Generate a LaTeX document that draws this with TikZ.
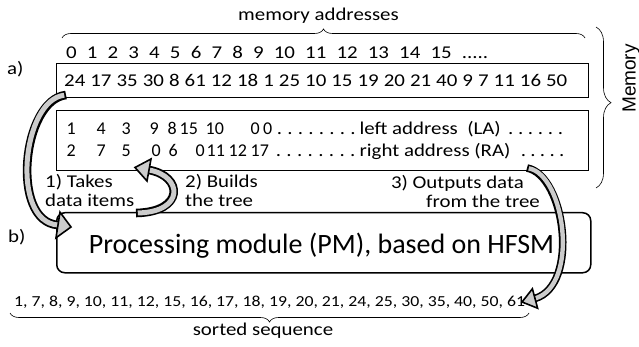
\documentclass[tikz,border=0pt]{standalone}
\usepackage{fontspec}
\setmainfont{Carlito}[FakeStretch=1.16]
\newfontfamily\pmfont{Carlito}
\newfontfamily\memfont{Liberation Sans}
\usetikzlibrary{decorations.pathreplacing}
\newcommand\tk[2]{\rlap{\hspace*{#1pt}#2}}
\newcommand\dg[1]{{\pmfont\fontsize{18}{20}\selectfont #1}}
\newcommand\mydots[1]{\hbox to #1pt{\xleaders\hbox to 9.6pt{\hss.\hss}\hfill}}
\begin{document}
\begin{tikzpicture}[x=1pt,y=-1pt,
  txt/.style={font=\fontsize{18}{20}\selectfont, inner sep=0pt},
  memBox/.style={draw, line width=0.7pt, inner sep=0pt, anchor=north west},
  bracestyle/.style={decorate, line width=0.6pt},
  outerband/.style={line width=8.6pt, black},
  innerband/.style={line width=5pt, gray!40, shorten <=1.8pt},
  headstyle/.style={fill=gray!40, draw=black, line width=1.6pt, line join=miter}]
\useasboundingbox (0,0) rectangle (639,347);

% memory addresses
\node[txt, anchor=base] (memaddr) at (318.5,20.5) {memory addresses};
\coordinate (tbA) at (62,38);
\coordinate (tbB) at (585,38);
\draw[bracestyle, decoration={brace, amplitude=9pt}] (tbA) -- (tbB);

\node[txt, anchor=base west] (idx) at (66,59)
  {\makebox[422pt][s]{0 1 2 3 4 5 6 7 8 9 10 11 12 13 14 15 .....}};

\node[txt, anchor=base west] (alab) at (7,75) {a)};

% memory boxes
\node[memBox, minimum width=532pt, minimum height=34pt] (mem1) at (56,63) {};
\node[txt, anchor=base west] (data) at (64,87)
  {\makebox[503pt][s]{24 17 35 30 8 61 12 18 1 25 10 15 19 20 21 40 9 7 11 16 50}};

\node[memBox, minimum width=532pt, minimum height=60pt] (mem2) at (56,110) {};
\node[txt, anchor=base west] (la) at (0,135)
  {\tk{66}{\dg{1}}\tk{96}{\dg{4}}\tk{121}{\dg{3}}\tk{149}{\dg{9}}\tk{167}{\dg{8}}\tk{179}{\dg{15}}\tk{205}{\dg{10}}%
   \tk{250}{\dg{0}}\tk{262.5}{\dg{0}}\tk{273}{\mydots{85}}\tk{359}{left address\ \ (LA)}\tk{505}{\mydots{60}}};
\node[txt, anchor=base west] (ra) at (0,157)
  {\tk{66}{\dg{2}}\tk{96}{\dg{7}}\tk{121}{\dg{5}}\tk{151}{\dg{0}}\tk{168}{\dg{6}}\tk{195}{\dg{0}}\tk{206}{\dg{11}}\tk{228}{\dg{12}}\tk{250}{\dg{17}}%
   \tk{272}{\mydots{86}}\tk{359}{right address (RA)}\tk{518}{\mydots{48}}};

% memory brace
\coordinate (mbA) at (596,27);
\coordinate (mbB) at (596,188);
\draw[bracestyle, decoration={brace, amplitude=15pt, aspect=0.47}] (mbA) -- (mbB);
\node[font=\memfont\fontsize{19}{21}\selectfont, inner sep=0pt, rotate=90, anchor=base] (memlbl) at (635.5,78.5) {Memory};

% step labels
\node[txt, anchor=base west] (take1) at (45,188) {1) Takes};
\node[txt, anchor=base west] (take2) at (45,207) {data items};
\node[txt, anchor=base west] (build1) at (185,188) {2) Builds};
\node[txt, anchor=base west] (build2) at (185,207) {the tree};
\node[txt, anchor=base east] (out1) at (524,189) {3) Outputs data};
\node[txt, anchor=base east] (out2) at (540,208) {from the tree};

\node[txt, anchor=base west] (blab) at (8,243) {b)};

% processing module
\node[draw, line width=1.5pt, rounded corners=8pt, inner sep=0pt, anchor=north west,
      minimum width=534pt, minimum height=60pt] (pm) at (56,212) {};
\node[font=\pmfont\fontsize{28}{30}\selectfont, inner sep=0pt, anchor=base] (pmtext) at (321.5,253)
  {Processing module (PM), based on HFSM};

% sorted sequence
\node[font=\fontsize{15.3}{17}\selectfont, inner sep=0pt, anchor=base west] (sorted) at (14,306)
  {1, 7, 8, 9, 10, 11, 12, 15, 16, 17, 18, 19, 20, 21, 24, 25, 30, 35, 40, 50, 61};
\coordinate (bbA) at (529,313);
\coordinate (bbB) at (10,313);
\draw[bracestyle, decoration={brace, amplitude=9pt}] (bbA) -- (bbB);
\node[txt, anchor=base] (sortlbl) at (263,335) {sorted sequence};

% block arrow 1: takes data items
\coordinate (a1s) at (66,95);
\coordinate (a1b) at (58,225);
\coordinate (a1t) at (71,227);
\coordinate (a1c1) at (60,212.2);
\coordinate (a1c2) at (56,237.8);
\draw[outerband] (a1s) .. controls (22,100) and (10,222) .. (a1b);
\draw[innerband] (a1s) .. controls (22,100) and (10,222) .. (a1b);
\draw[headstyle] (a1c1) -- (a1t) -- (a1c2) -- cycle;

% block arrow 2: builds the tree
\coordinate (a2s) at (136,213);
\coordinate (a2b) at (149,170);
\coordinate (a2t) at (135,167.5);
\coordinate (a2c1) at (151,159);
\coordinate (a2c2) at (147,181);
\draw[outerband] (a2s) .. controls (185,212) and (183,176) .. (a2b);
\draw[innerband] (a2s) .. controls (185,212) and (183,176) .. (a2b);
\draw[headstyle] (a2c1) -- (a2t) -- (a2c2) -- cycle;

% block arrow 3: outputs data
\coordinate (a3s) at (527,168);
\coordinate (a3b) at (535,298.5);
\coordinate (a3t) at (522,302);
\coordinate (a3c1) at (532.4,288.8);
\coordinate (a3c2) at (537.6,308.2);
\draw[outerband, line width=7.6pt] (a3s) .. controls (565,175) and (580,285) .. (a3b);
\draw[innerband, line width=4.4pt] (a3s) .. controls (565,175) and (580,285) .. (a3b);
\draw[headstyle] (a3c1) -- (a3t) -- (a3c2) -- cycle;
\end{tikzpicture}
\end{document}
